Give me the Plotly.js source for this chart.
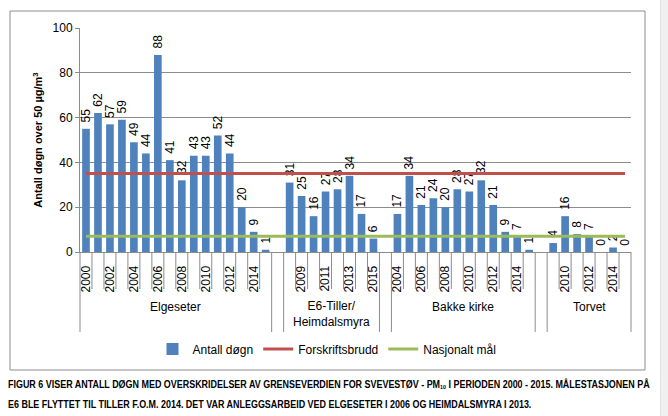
<!DOCTYPE html>
<html>
<head>
<meta charset="utf-8">
<script src="https://cdn.plot.ly/plotly-3.0.1.min.js"></script>
<style>
  html, body { margin: 0; padding: 0; background: #ffffff; }
  #wrap { position: relative; width: 668px; height: 416px; overflow: hidden; }
  #chart { position: absolute; left: 0; top: 0; width: 668px; height: 416px; }
  #strip { position: absolute; left: 660px; top: 0; width: 8px; height: 416px; background: #f0f0f0; border-left: 1px solid #e2e2e2; }
  #caption { position: absolute; left: 8px; top: 376px; font-family: "Liberation Sans Narrow", "Arial Narrow", "Liberation Sans", Arial, sans-serif; font-weight: bold; font-size: 10px; line-height: 18px; color: #000; white-space: nowrap; transform-origin: 0 0; }
  #caption sub { font-size: 6px; vertical-align: -1px; }
</style>
</head>
<body>
<div id="wrap">
  <div id="chart"></div>
  <div id="strip"></div>
  <div id="caption">
    <div id="cap1">FIGUR 6 VISER ANTALL DØGN MED OVERSKRIDELSER AV GRENSEVERDIEN FOR SVEVESTØV - PM<sub>10</sub> I PERIODEN 2000 - 2015. MÅLESTASJONEN PÅ</div>
    <div id="cap2">E6 BLE FLYTTET TIL TILLER F.O.M. 2014. DET VAR ANLEGGSARBEID VED ELGESETER I 2006 OG HEIMDALSMYRA I 2013.</div>
  </div>
</div>
<script>
// ---- data ----
const stationNames = ["Elgeseter", "E6-Tiller/<br>Heimdalsmyra", "Bakke kirke", "Torvet"];

const elgesetarYears  = [2000, 2001, 2002, 2003, 2004, 2005, 2006, 2007, 2008, 2009, 2010, 2011, 2012, 2013, 2014, 2015];
const elgesetarValues = [55, 62, 57, 59, 49, 44, 88, 41, 32, 43, 43, 52, 44, 20, 9, 1];

const e6Years  = [2008, 2009, 2010, 2011, 2012, 2013, 2014, 2015];
const e6Values = [31, 25, 16, 27, 28, 34, 17, 6];

const bakkeYears  = [2004, 2005, 2006, 2007, 2008, 2009, 2010, 2011, 2012, 2013, 2014, 2015];
const bakkeValues = [17, 34, 21, 24, 20, 28, 27, 32, 21, 9, 7, 1];

const torvetYears  = [2009, 2010, 2011, 2012, 2013, 2014, 2015];
const torvetValues = [4, 16, 8, 7, 0, 2, 0];

const forskriftsbrudd = 35;   // limit value (days)
const nasjonaltMal = 7;       // national target (days)

// ---- build category axis (stations separated by an empty slot) ----
const groupYears  = [elgesetarYears, e6Years, bakkeYears, torvetYears];
const groupValues = [elgesetarValues, e6Values, bakkeValues, torvetValues];

const cats = [], vals = [], labels = [];
const groups = [];
const tickVals = [], tickText = [];
groupYears.forEach((yrs, g) => {
  if (g > 0) {
    groups.push({start: cats.length, count: 1, name: ""});
    cats.push("gap" + g); vals.push(null); labels.push("");
  }
  groups.push({start: cats.length, count: yrs.length, name: stationNames[g]});
  yrs.forEach((y, i) => {
    const id = stationNames[g] + " " + y;
    if (cats.length % 2 === 0) { tickVals.push(id); tickText.push(String(y)); }
    cats.push(id);
    vals.push(groupValues[g][i]);
    labels.push("\u00a0" + groupValues[g][i]);
  });
});
const N = cats.length;

const plotTop = 28, plotBottom = 252, plotLeft = 80, plotRight = 631;
const H = plotBottom - plotTop, W = plotRight - plotLeft;
const py = px => (plotBottom - px) / H;
const pxX = px => (px - plotLeft) / W;

const shapes = [];
shapes.push({type: "rect", xref: "paper", yref: "paper", x0: pxX(10), x1: pxX(645), y0: py(370), y1: py(11),
             line: {color: "#8c8c8c", width: 1}, fillcolor: "rgba(0,0,0,0)", layer: "below"});
const groupBounds = new Set();
groups.forEach(gr => { groupBounds.add(gr.start); groupBounds.add(gr.start + gr.count); });
for (let b = 0; b <= N; b++) {
  const long = groupBounds.has(b);
  shapes.push({type: "line", xref: "paper", yref: "paper", x0: b / N, x1: b / N,
               y0: 0, y1: long ? py(332) : py(289), line: {color: "#8c8c8c", width: 1}});
}

const annotations = groups.filter(gr => gr.name).map(gr => ({
  xref: "paper", yref: "paper", x: (gr.start + gr.count / 2) / N,
  y: gr.name.indexOf("<br>") >= 0 ? py(314) : py(307),
  text: gr.name, showarrow: false, xanchor: "center", yanchor: "middle",
  font: {family: "Liberation Sans, Arial, sans-serif", size: 12, color: "#000"}
}));

const traces = [
  {type: "bar", name: "Antall døgn", x: cats, y: vals, text: labels,
   textposition: "outside", textangle: -90, constraintext: "none", cliponaxis: false,
   textfont: {family: "Liberation Sans, Arial, sans-serif", size: 12, color: "#000"},
   marker: {color: "#4f81bd"}},
  {type: "scatter", mode: "lines", name: "Forskriftsbrudd",
   x: [cats[0], cats[N - 1]], y: [forskriftsbrudd, forskriftsbrudd],
   line: {color: "#c0504d", width: 3}},
  {type: "scatter", mode: "lines", name: "Nasjonalt mål",
   x: [cats[0], cats[N - 1]], y: [nasjonaltMal, nasjonaltMal],
   line: {color: "#9bbb59", width: 3}}
];

const layout = {
  width: 668, height: 416,
  margin: {l: plotLeft, r: 668 - plotRight, t: plotTop, b: 416 - plotBottom, pad: 0},
  paper_bgcolor: "rgba(0,0,0,0)", plot_bgcolor: "#ffffff",
  bargap: 0.36,
  font: {family: "Liberation Sans, Arial, sans-serif", size: 12, color: "#000"},
  xaxis: {type: "category", categoryorder: "array", categoryarray: cats,
          range: [-0.5, N - 0.5], tickmode: "array", tickvals: tickVals, ticktext: tickText,
          tickangle: -90, ticks: "", ticklabelstandoff: 8, showgrid: false, zeroline: false,
          showline: true, linecolor: "#8c8c8c", linewidth: 1,
          tickfont: {size: 12, color: "#000"}},
  yaxis: {range: [0, 100], dtick: 20, tick0: 0, showgrid: true, gridcolor: "#8c8c8c", gridwidth: 1,
          zeroline: false, showline: true, linecolor: "#8c8c8c", linewidth: 1,
          ticks: "outside", ticklen: 4, tickcolor: "#8c8c8c",
          tickfont: {size: 12, color: "#000"},
          title: {text: "<b>Antall døgn over 50 µg/m<sup>3</sup></b>", standoff: 7,
                  font: {size: 11, color: "#000"}}},
  showlegend: true,
  legend: {orientation: "h", x: pxX(327), xanchor: "center", y: py(349), yanchor: "middle",
           font: {size: 12, color: "#000"}, bgcolor: "rgba(0,0,0,0)"},
  shapes: shapes,
  annotations: annotations
};

Plotly.newPlot("chart", traces, layout, {displayModeBar: false, staticPlot: true}).then(() => {
  const cap = document.getElementById("caption");
  const w = document.getElementById("cap1").scrollWidth;
  if (w > 0) cap.style.transform = "scaleX(" + (642 / w) + ")";
});
</script>
</body>
</html>
